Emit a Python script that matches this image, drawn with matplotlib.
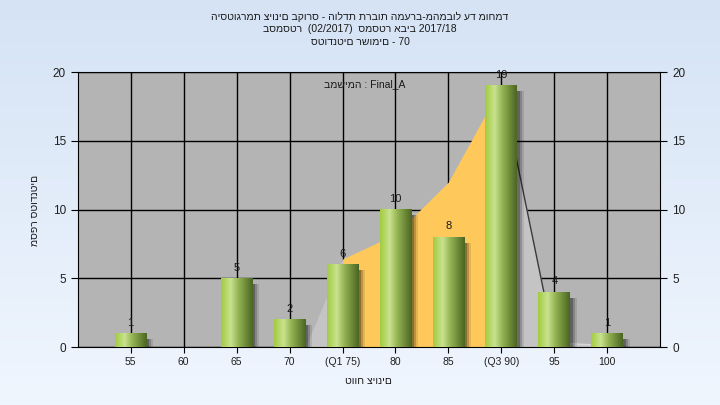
import numpy as np
import matplotlib
matplotlib.use("Agg")
import matplotlib.pyplot as plt
from matplotlib.colors import LinearSegmentedColormap

plt.rcParams['font.family'] = ['Liberation Sans', 'DejaVu Sans']

# data
bins = ['55', '60', '65', '70', '(Q1 75)', '80', '85', '(Q3 90)', '95', '100']
counts = [1, 0, 5, 2, 6, 10, 8, 19, 4, 1]
curve_pos = [3.3, 4, 5, 6, 7, 8, 9]
curve_vals = [0, 6.4, 8.2, 12, 19, 0.3, 0.1]

# text is drawn as-is (left to right), the way the original chart shows it
title_lines = ["היסטוגרמת ציונים בקורס - הולדת תרבות המערב-מהמבול עד מוחמד",
               "בסמסטר  (02/2017)  סמסטר אביב 2017/18",
               "סטודנטים רשומים - 70"]
xlabel = "טווח ציונים"
ylabel = "מספר סטודנטים"
note = "במשימה : Final_A"

fig = plt.figure(figsize=(7.2, 4.05), dpi=100)

# background gradient
bg = fig.add_axes([0, 0, 1, 1], zorder=-1)
grad = np.linspace(0, 1, 256).reshape(-1, 1)
bg_cmap = LinearSegmentedColormap.from_list('bg', ['#d5e3f5', '#f0f6fe'])
bg.imshow(grad, aspect='auto', cmap=bg_cmap, extent=(0, 1, 0, 1))
bg.axis('off')

ax = fig.add_axes([0.108, 0.1432, 0.809, 0.679])
ax.set_facecolor('#b4b4b4')

x = np.arange(len(bins))
w = 0.6

# grid
for i in x:
    ax.axvline(i, color='black', lw=1, zorder=1)
for v in range(0, 21, 5):
    ax.axhline(v, color='black', lw=1, zorder=1)

# distribution area
ax.fill_between(curve_pos[0:2], curve_vals[0:2], color='#c4c4c4', lw=0, zorder=1.5)
ax.fill_between(curve_pos[1:5], curve_vals[1:5], color='#fec95a', lw=0, zorder=1.5)
ax.fill_between(curve_pos[4:], curve_vals[4:], color='#c4c4c4', lw=0, zorder=1.5)
ax.plot(curve_pos[4:6], curve_vals[4:6], color='#3a3a3a', lw=1, zorder=1.6)
ax.plot(curve_pos[5:], curve_vals[5:], color='#d8d8d8', lw=1, zorder=1.6)

# bars: shadow + cylinder gradient
bar_cmap = LinearSegmentedColormap.from_list(
    'cyl', [(0, '#a2cc40'), (0.3, '#c9e28f'), (0.55, '#93b352'), (1, '#4b6622')])
row = np.linspace(0, 1, 64).reshape(1, -1)
for xi, c in zip(x, counts):
    if c == 0:
        continue
    for off, a in [(0.05, 0.25), (0.09, 0.18), (0.13, 0.1)]:
        ax.bar(xi + off, c - 0.2, width=w, bottom=-0.2, color='black',
               alpha=a, lw=0, zorder=2.5)
    ax.imshow(row, cmap=bar_cmap, aspect='auto', interpolation='bilinear',
              extent=(xi - w / 2, xi + w / 2, 0, c), zorder=3)
    ax.annotate(str(c), (xi, c), xytext=(0, 4), textcoords='offset points',
                ha='center', va='bottom', fontsize=8, color='#1a1a1a', zorder=4)

ax.set_xlim(-1, 10)
ax.set_ylim(0, 20)
ax.set_xticks(x)
ax.set_xticklabels(bins, fontsize=7.5, color='#202020')
ax.set_yticks(range(0, 21, 5))
ax.tick_params(axis='y', labelsize=8.5, labelcolor='#202020', right=True,
               labelright=True, length=5, direction='out')
ax.tick_params(axis='x', length=4, direction='out', pad=3)
for s in ax.spines.values():
    s.set_color('black')

ax.text(0.493, 0.955, note, transform=ax.transAxes, ha='center',
        va='center', fontsize=7.5, color='#1a1a1a', zorder=5)

for k, line in enumerate(title_lines):
    fig.text(0.5, 1 - (17 + 12.5 * k) / 405, line, ha='center',
             va='center', fontsize=7.5, color='#1a1a1a')

fig.text(0.512, 1 - 381 / 405, xlabel, ha='center', va='center',
         fontsize=7.5, color='#1a1a1a')
fig.text(0.049, 0.48, ylabel, ha='center', va='center', rotation=90,
         fontsize=7.5, color='#1a1a1a')

fig.savefig('out.png', dpi=100)
